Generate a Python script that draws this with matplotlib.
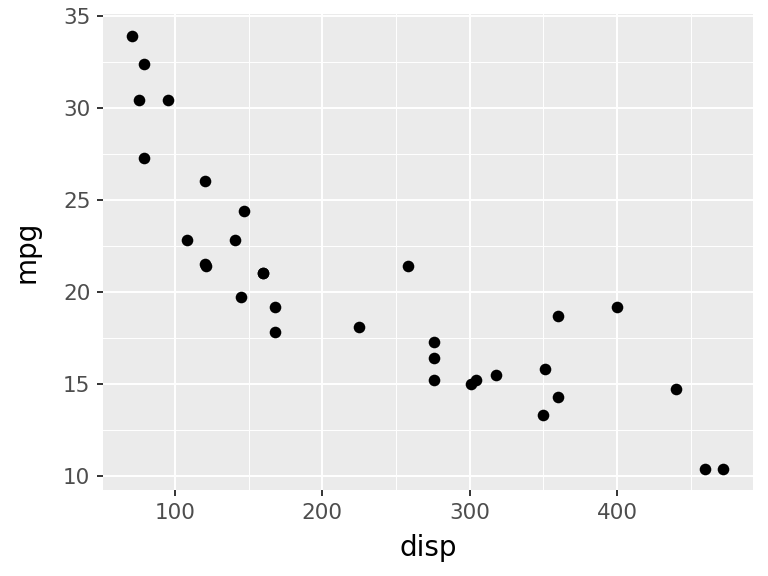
import numpy as np
import matplotlib.pyplot as plt

# mtcars: displacement vs miles per gallon
disp = [160, 160, 108, 258, 360, 225, 360, 146.7, 140.8, 167.6, 167.6,
        275.8, 275.8, 275.8, 472, 460, 440, 78.7, 75.7, 71.1, 120.1,
        318, 304, 350, 400, 79, 120.3, 95.1, 351, 145, 301, 121]
mpg = [21.0, 21.0, 22.8, 21.4, 18.7, 18.1, 14.3, 24.4, 22.8, 19.2, 17.8,
       16.4, 17.3, 15.2, 10.4, 10.4, 14.7, 32.4, 30.4, 33.9, 21.5,
       15.5, 15.2, 13.3, 19.2, 27.3, 26.0, 30.4, 15.8, 19.7, 15.0, 21.4]

xticks = [100, 200, 300, 400]
yticks = [10, 15, 20, 25, 30, 35]

fig = plt.figure(figsize=(7.68, 5.76), dpi=100)
ax = fig.add_axes([0.134, 0.149, 0.846, 0.826])
ax.set_facecolor('#EBEBEB')

xr = max(disp) - min(disp)
yr = max(mpg) - min(mpg)
ax.set_xlim(min(disp) - 0.05 * xr, max(disp) + 0.05 * xr)
ax.set_ylim(min(mpg) - 0.05 * yr, max(mpg) + 0.05 * yr)

ax.set_xticks(xticks)
ax.set_yticks(yticks)
ax.set_xticks([150, 250, 350, 450], minor=True)
ax.set_yticks([12.5, 17.5, 22.5, 27.5, 32.5], minor=True)
ax.grid(which='major', color='white', linewidth=1.4)
ax.grid(which='minor', color='white', linewidth=0.7)
ax.set_axisbelow(True)

ax.scatter(disp, mpg, s=70, color='black', zorder=3, linewidths=0)

for spine in ax.spines.values():
    spine.set_visible(False)
ax.tick_params(which='major', length=4, color='#333333', width=1.4,
               labelsize=15.5, labelcolor='#4D4D4D', pad=5)
ax.tick_params(which='minor', length=0)

ax.set_xlabel('disp', fontsize=20, color='black', labelpad=8)
ax.set_ylabel('mpg', fontsize=20, color='black', labelpad=16)

fig.savefig('out.png', dpi=100)
